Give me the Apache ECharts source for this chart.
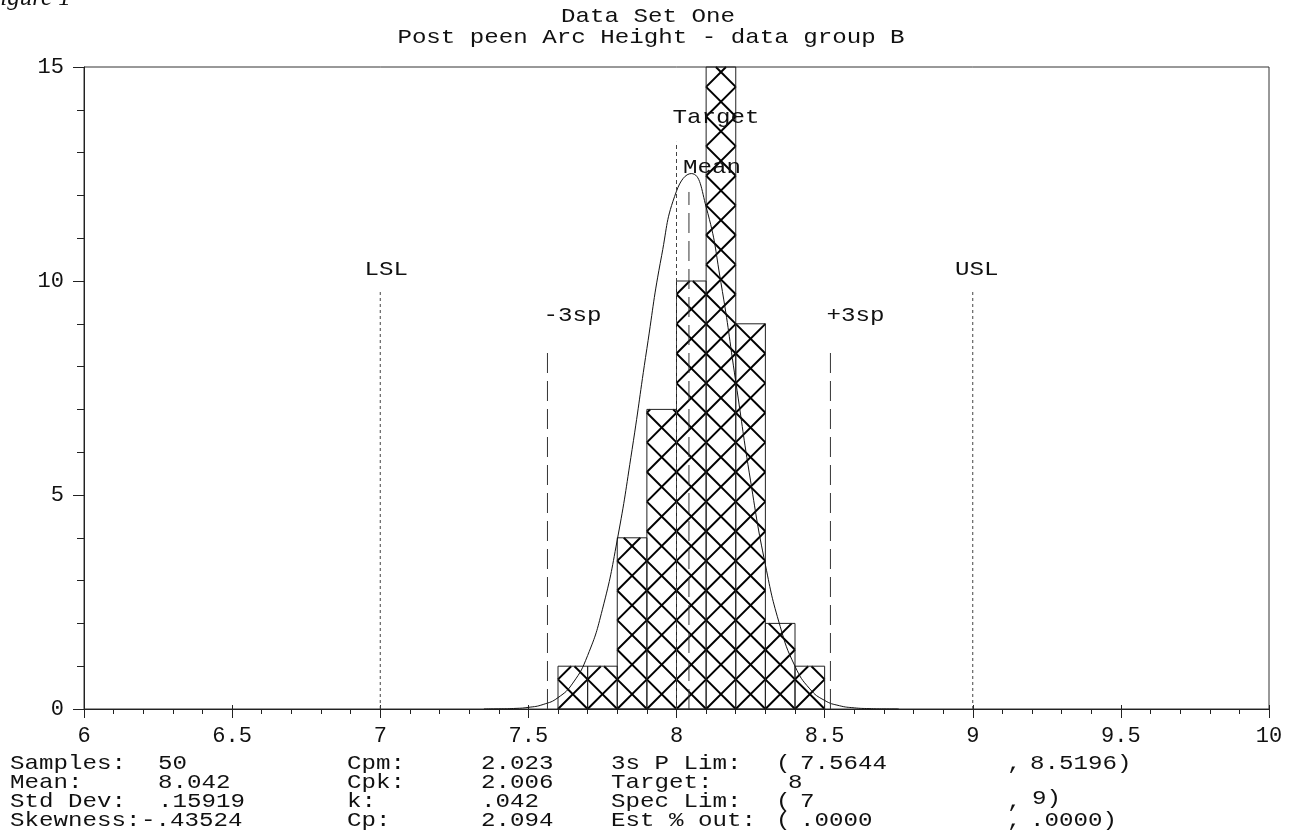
<!DOCTYPE html>
<html>
<head>
<meta charset="utf-8">
<script src="https://cdn.jsdelivr.net/npm/echarts@6/dist/echarts.min.js"></script>
<style>
html,body{margin:0;padding:0;background:#ffffff;}
#chart{width:1292px;height:837px;}
</style>
</head>
<body>
<div id="chart"></div>
<script>
// ---------------- data ----------------
const figureLabel = 'Figure 1';
const titleLines = ['Data Set One', 'Post peen Arc Height - data group B'];

const xTicks = [6, 6.5, 7, 7.5, 8, 8.5, 9, 9.5, 10];
const yTicks = [0, 5, 10, 15];

const binEdges = [7.6, 7.7, 7.8, 7.9, 8.0, 8.1, 8.2, 8.3, 8.4, 8.5];
const binCounts = [1, 1, 4, 7, 10, 15, 9, 2, 1];

const curveX = [7.35, 7.4, 7.45, 7.5, 7.55, 7.6, 7.65, 7.7, 7.75, 7.8, 7.85, 7.9, 7.95, 8.0, 8.05,
                8.1, 8.15, 8.2, 8.25, 8.3, 8.35, 8.4, 8.45, 8.5, 8.55, 8.6, 8.65, 8.7, 8.75];
const curveY = [0.001, 0.004, 0.012, 0.038, 0.106, 0.265, 0.605, 1.25, 2.33, 3.95, 6.06, 8.42, 10.6, 12.1, 12.51,
                11.73, 9.96, 7.65, 5.33, 3.37, 1.93, 1.0, 0.47, 0.2, 0.077, 0.027, 0.009, 0.002, 0.001];

const refNames  = ['LSL', '-3sp', 'Target', 'Mean', '+3sp', 'USL'];
const refValues = [7, 7.5644, 8, 8.042, 8.5196, 9];
const refTops   = [9.8, 8.5, 13.25, 12.08, 8.5, 9.8];

const statLabelsA = ['Samples:', 'Mean:', 'Std Dev:', 'Skewness:'];
const statValuesA = ['50', '8.042', '.15919', '-.43524'];
const statLabelsB = ['Cpm:', 'Cpk:', 'k:', 'Cp:'];
const statValuesB = ['2.023', '2.006', '.042', '2.094'];
const statLabelsC = ['3s P Lim:', 'Target:', 'Spec Lim:', 'Est % out:'];
const statLowC    = ['7.5644', '8', '7', '.0000'];
const statHighC   = ['8.5196', '', '9', '.0000'];

// ---------------- styles ----------------
const MONO = '"Liberation Mono", "Courier New", "DejaVu Sans Mono", monospace';
const INK = '#111';
const SX = 1.15;

const refStyle = {
  'LSL':    {dash: [3, 3],  color: '#444', dx: 6,  align: 'center', dy: -20},
  '-3sp':   {dash: [20, 8], color: '#333', dx: -4, align: 'left',   dy: -30},
  'Target': {dash: [4, 3],  color: '#444', dx: -4, align: 'left',   dy: -24},
  'Mean':   {dash: [20, 8], color: '#333', dx: -6, align: 'left',   dy: -25},
  '+3sp':   {dash: [20, 8], color: '#333', dx: -4, align: 'left',   dy: -30},
  'USL':    {dash: [3, 3],  color: '#444', dx: 4,  align: 'center', dy: -20}
};

function txt(s, x, y, opt) {
  opt = opt || {};
  const align = opt.align || 'left';
  return {
    type: 'text', x: x, y: y, scaleX: opt.scaleX || SX, silent: true, z: 100,
    style: {
      text: s, fill: opt.fill || INK,
      font: opt.font || ('21px ' + MONO),
      align: align, textAlign: align,
      verticalAlign: opt.va || 'middle', textVerticalAlign: opt.va || 'middle'
    }
  };
}

// ---------------- graphics: title + stats ----------------
const graphics = [];
graphics.push(txt(figureLabel, -15, 11, {font: 'italic 25px "Liberation Serif", "DejaVu Serif", serif', va: 'bottom', scaleX: 1}));
graphics.push(txt(titleLines[0], 648, 16, {align: 'center'}));
graphics.push(txt(titleLines[1], 651, 37, {align: 'center'}));

const rowY = [763, 782, 801, 820];
for (let i = 0; i < 4; i++) {
  const y = rowY[i];
  graphics.push(txt(statLabelsA[i], 10, y));
  graphics.push(txt(statValuesA[i], statLabelsA[i] === 'Skewness:' ? 141 : 158, y));
  graphics.push(txt(statLabelsB[i], 347, y));
  graphics.push(txt(statValuesB[i], 481, y));
  graphics.push(txt(statLabelsC[i], 611, y));
  if (statHighC[i] !== '') {
    graphics.push(txt('(', 776, y));
    graphics.push(txt(statLowC[i], 800, y));
    graphics.push(txt(',', 1007, y));
    graphics.push(txt(statHighC[i] + ')', statHighC[i] === '9' ? 1032 : 1030, statHighC[i] === '9' ? y - 3 : y));
  } else {
    graphics.push(txt(statLowC[i], 788, y));
  }
}

// ---------------- series renderers ----------------
function renderBar(params, api) {
  const p0 = api.coord([api.value(0), 0]);
  const p1 = api.coord([api.value(1), api.value(2)]);
  const left = p0[0], right = p1[0], base = p0[1], top = p1[1];
  const w = right - left, H = base - top;
  const hatch = {stroke: '#000', lineWidth: 2};
  const children = [];
  const kMin = -Math.ceil(H / w) - 1;
  for (let k = kMin; k <= 1; k++) {           // rising lines: u - v = k*w
    const c = k * w;
    const u0 = Math.max(0, c), u1 = Math.min(w, c + H);
    if (u1 > u0) children.push({type: 'line', shape: {x1: left + u0, y1: base - (u0 - c), x2: left + u1, y2: base - (u1 - c)}, style: hatch});
  }
  const kMax = Math.ceil((w + H) / w) + 1;
  for (let k = 0; k <= kMax; k++) {           // falling lines: u + v = k*w
    const c = k * w;
    const u0 = Math.max(0, c - H), u1 = Math.min(w, c);
    if (u1 > u0) children.push({type: 'line', shape: {x1: left + u0, y1: base - (c - u0), x2: left + u1, y2: base - (c - u1)}, style: hatch});
  }
  children.push({type: 'rect', shape: {x: left, y: top, width: w, height: H}, style: {fill: 'none', stroke: '#222', lineWidth: 1}});
  return {type: 'group', children: children};
}

function renderRef(params, api) {
  const name = refNames[params.dataIndex];
  const st = refStyle[name];
  const pb = api.coord([api.value(0), 0]);
  const pt = api.coord([api.value(0), api.value(1)]);
  return {
    type: 'group',
    children: [
      {type: 'line', shape: {x1: pb[0], y1: pb[1], x2: pt[0], y2: pt[1]},
       style: {stroke: st.color, lineWidth: 1, lineDash: st.dash}},
      {type: 'text', x: pt[0] + st.dx, y: pt[1] + st.dy, scaleX: SX,
       style: {text: name, fill: INK, font: '21px ' + MONO, align: st.align, textAlign: st.align,
               verticalAlign: 'middle', textVerticalAlign: 'middle'}}
    ]
  };
}

// ---------------- chart ----------------
const chart = echarts.init(document.getElementById('chart'), null, {renderer: 'canvas'});
const axisColor = '#222';
chart.setOption({
  animation: false,
  backgroundColor: '#ffffff',
  grid: {left: 84, right: 23, top: 67, bottom: 128, show: true, borderColor: '#333', borderWidth: 1, backgroundColor: 'transparent'},
  xAxis: [{
    type: 'value', min: xTicks[0], max: xTicks[xTicks.length - 1], interval: xTicks[1] - xTicks[0],
    axisLine: {show: true, onZero: false, lineStyle: {color: axisColor, width: 1}},
    axisTick: {show: true, length: 9, lineStyle: {color: axisColor}},
    minorTick: {show: true, splitNumber: 5, length: 5, lineStyle: {color: axisColor}},
    splitLine: {show: false},
    axisLabel: {margin: 16, fontSize: 22, fontFamily: MONO, color: INK}
  }, {
    type: 'value', min: xTicks[0], max: xTicks[xTicks.length - 1], interval: xTicks[1] - xTicks[0],
    position: 'bottom', axisLine: {show: false},
    axisTick: {show: true, inside: true, length: 4, lineStyle: {color: axisColor}},
    axisLabel: {show: false}, splitLine: {show: false}
  }],
  yAxis: {
    type: 'value', min: yTicks[0], max: yTicks[yTicks.length - 1], interval: yTicks[1] - yTicks[0],
    axisLine: {show: true, onZero: false, lineStyle: {color: axisColor, width: 1}},
    axisTick: {show: true, length: 11, lineStyle: {color: axisColor}},
    minorTick: {show: true, splitNumber: 5, length: 7, lineStyle: {color: axisColor}},
    splitLine: {show: false},
    axisLabel: {margin: 20, fontSize: 22, fontFamily: MONO, color: INK}
  },
  graphic: graphics,
  series: [
    {
      type: 'custom', name: 'counts', xAxisIndex: 0, z: 2,
      renderItem: renderBar,
      encode: {x: [0, 1], y: 2},
      data: binCounts.map((c, i) => [binEdges[i], binEdges[i + 1], c]),
      silent: true
    },
    {
      type: 'line', name: 'normal', xAxisIndex: 0, z: 3,
      data: curveX.map((x, i) => [x, curveY[i]]),
      showSymbol: false, smooth: 0.5,
      lineStyle: {color: '#111', width: 1}, silent: true
    },
    {
      type: 'custom', name: 'refs', xAxisIndex: 0, z: 4,
      renderItem: renderRef,
      encode: {x: 0, y: 1},
      data: refValues.map((v, i) => [v, refTops[i]]),
      silent: true
    }
  ]
});
</script>
</body>
</html>
